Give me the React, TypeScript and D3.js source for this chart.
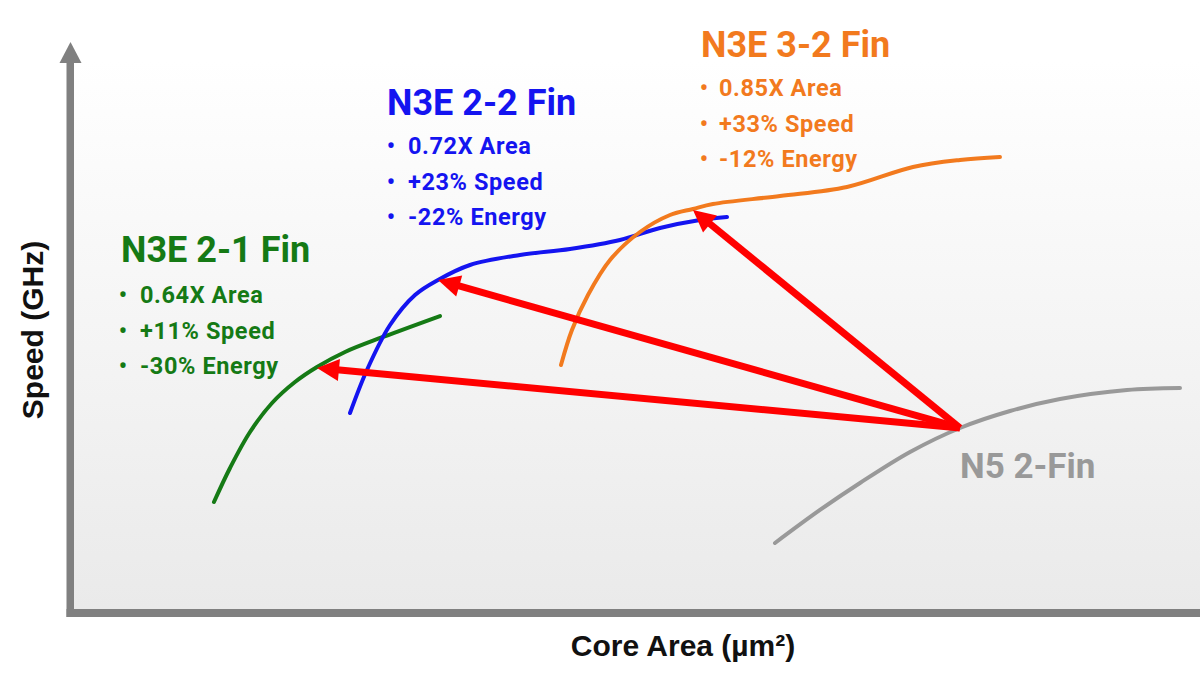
import { useEffect, useRef } from 'react';
import * as d3 from 'd3';

// curves (relative units, 0-10 on both axes)
const n5TwoFin: [number, number][] = [
  [6.239, 1.222], [6.637, 1.798], [6.991, 2.269], [7.434, 2.81], [7.876, 3.229],
  [8.319, 3.525], [8.761, 3.735], [9.354, 3.892], [9.823, 3.927],
];
const n3eTwoOne: [number, number][] = [
  [1.274, 1.937], [1.416, 2.531], [1.593, 3.159], [1.788, 3.665], [1.991, 4.031],
  [2.186, 4.293], [2.434, 4.555], [2.77, 4.817], [3.274, 5.183],
];
const n3eTwoTwo: [number, number][] = [
  [2.478, 3.49], [2.628, 4.241], [2.832, 5.026], [3.053, 5.55], [3.257, 5.812],
  [3.54, 6.073], [3.982, 6.248], [4.425, 6.353], [4.867, 6.51], [5.221, 6.719],
  [5.575, 6.859], [5.814, 6.911],
];
const n3eThreeTwo: [number, number][] = [
  [4.345, 4.328], [4.442, 4.939], [4.584, 5.55], [4.779, 6.161], [5.044, 6.649],
  [5.31, 6.946], [5.513, 7.051], [5.69, 7.138], [6.283, 7.277], [6.876, 7.435],
  [7.46, 7.784], [7.876, 7.906], [8.23, 7.958],
];

const arrowFrom: [number, number] = [7.876, 3.229];
const arrowTargets: [number, number][] = [
  [2.186, 4.276],
  [3.257, 5.812],
  [5.513, 7.033],
];

const seriesNames = ['N3E 2-1 Fin', 'N3E 2-2 Fin', 'N3E 3-2 Fin'];
const seriesColors = ['#157a15', '#1414f0', '#f27a1e'];
const bulletLines = [
  ['0.64X Area', '+11% Speed', '-30% Energy'],
  ['0.72X Area', '+23% Speed', '-22% Energy'],
  ['0.85X Area', '+33% Speed', '-12% Energy'],
];
const labelPos = [
  { x: 121, y: 262, bx: 123, tx: 140, by: [303, 339, 374] },
  { x: 387, y: 115, bx: 391, tx: 408, by: [154, 190, 225] },
  { x: 701, y: 57, bx: 704, tx: 719, by: [96, 132, 167] },
];

const W = 1200;
const H = 675;
const font = 'Roboto, "Noto Sans", sans-serif';
const axisFont = '"Liberation Sans", Arial, sans-serif';

export default function App() {
  const svgRef = useRef<SVGSVGElement>(null);

  useEffect(() => {
    const svg = d3.select(svgRef.current);
    svg.selectAll('*').remove();

    const x = d3.scaleLinear().domain([0, 10]).range([70, 1200]);
    const y = d3.scaleLinear().domain([0, 10]).range([613, 40]);

    const defs = svg.append('defs');
    const grad = defs
      .append('linearGradient')
      .attr('id', 'bg')
      .attr('x1', 0)
      .attr('y1', 0)
      .attr('x2', 0)
      .attr('y2', 1);
    grad.append('stop').attr('offset', '0%').attr('stop-color', '#ffffff');
    grad.append('stop').attr('offset', '100%').attr('stop-color', '#eaeaea');

    svg.append('rect').attr('width', W).attr('height', H).attr('fill', '#fff');
    svg
      .append('rect')
      .attr('x', 74)
      .attr('y', 60)
      .attr('width', W - 74)
      .attr('height', 549)
      .attr('fill', 'url(#bg)');

    // axes
    const axisColor = '#808080';
    svg
      .append('rect')
      .attr('x', x(0) - 3.5)
      .attr('y', 60)
      .attr('width', 7.5)
      .attr('height', y(0) + 4 - 60)
      .attr('fill', axisColor);
    svg
      .append('path')
      .attr('d', `M${x(0) + 0.5},42 L${x(0) + 11.5},63 L${x(0) - 10.5},63 Z`)
      .attr('fill', axisColor);
    svg
      .append('rect')
      .attr('x', x(0) - 3.5)
      .attr('y', y(0) - 4)
      .attr('width', W - x(0) + 3.5)
      .attr('height', 8)
      .attr('fill', axisColor);

    const line = d3
      .line<[number, number]>()
      .x((d) => x(d[0]))
      .y((d) => y(d[1]))
      .curve(d3.curveCatmullRom.alpha(0.5));

    svg
      .append('path')
      .attr('d', line(n5TwoFin))
      .attr('fill', 'none')
      .attr('stroke', '#999999')
      .attr('stroke-width', 4)
      .attr('stroke-linecap', 'round');

    [n3eTwoOne, n3eTwoTwo, n3eThreeTwo].forEach((s, i) => {
      svg
        .append('path')
        .attr('d', line(s))
        .attr('fill', 'none')
        .attr('stroke', seriesColors[i])
        .attr('stroke-width', 4)
        .attr('stroke-linecap', 'round');
    });

    // red arrows
    const x0 = x(arrowFrom[0]);
    const y0 = y(arrowFrom[1]);
    arrowTargets.forEach((t) => {
      const x1 = x(t[0]);
      const y1 = y(t[1]);
      const len = Math.hypot(x1 - x0, y1 - y0);
      const ux = (x1 - x0) / len;
      const uy = (y1 - y0) / len;
      const head = 22;
      const hw = 11;
      const bx = x1 - ux * head;
      const by = y1 - uy * head;
      svg
        .append('line')
        .attr('x1', x0)
        .attr('y1', y0)
        .attr('x2', bx + ux * 2)
        .attr('y2', by + uy * 2)
        .attr('stroke', '#ff0000')
        .attr('stroke-width', 7);
      svg
        .append('path')
        .attr(
          'd',
          `M${x1},${y1} L${bx - uy * hw},${by + ux * hw} L${bx + uy * hw},${by - ux * hw} Z`,
        )
        .attr('fill', '#ff0000');
    });

    // labels
    seriesNames.forEach((name, i) => {
      const p = labelPos[i];
      svg
        .append('text')
        .attr('x', p.x)
        .attr('y', p.y)
        .attr('fill', seriesColors[i])
        .attr('font-family', font)
        .attr('font-weight', 700)
        .attr('font-size', 36)
        .text(name);
      bulletLines[i].forEach((b, j) => {
        svg
          .append('text')
          .attr('x', p.bx)
          .attr('y', p.by[j])
          .attr('fill', seriesColors[i])
          .attr('font-family', font)
          .attr('font-weight', 700)
          .attr('font-size', 23)
          .attr('text-anchor', 'middle')
          .text('•');
        svg
          .append('text')
          .attr('x', p.tx)
          .attr('y', p.by[j])
          .attr('fill', seriesColors[i])
          .attr('font-family', font)
          .attr('font-weight', 700)
          .attr('font-size', 23.5)
          .attr('letter-spacing', 0.6)
          .text(b);
      });
    });

    svg
      .append('text')
      .attr('x', 960)
      .attr('y', 478)
      .attr('fill', '#999999')
      .attr('font-family', font)
      .attr('font-weight', 700)
      .attr('font-size', 35)
      .text('N5 2-Fin');

    svg
      .append('text')
      .attr('x', 683)
      .attr('y', 656)
      .attr('text-anchor', 'middle')
      .attr('fill', '#111')
      .attr('font-family', axisFont)
      .attr('font-weight', 700)
      .attr('font-size', 30)
      .text('Core Area (µm²)');

    svg
      .append('text')
      .attr('transform', 'translate(43,330) rotate(-90)')
      .attr('text-anchor', 'middle')
      .attr('fill', '#111')
      .attr('font-family', axisFont)
      .attr('font-weight', 700)
      .attr('font-size', 30)
      .text('Speed (GHz)');
  }, []);

  return (
    <div style={{ position: 'absolute', left: 0, top: 0 }}>
      <svg ref={svgRef} width={W} height={H} style={{ display: 'block' }} />
    </div>
  );
}
